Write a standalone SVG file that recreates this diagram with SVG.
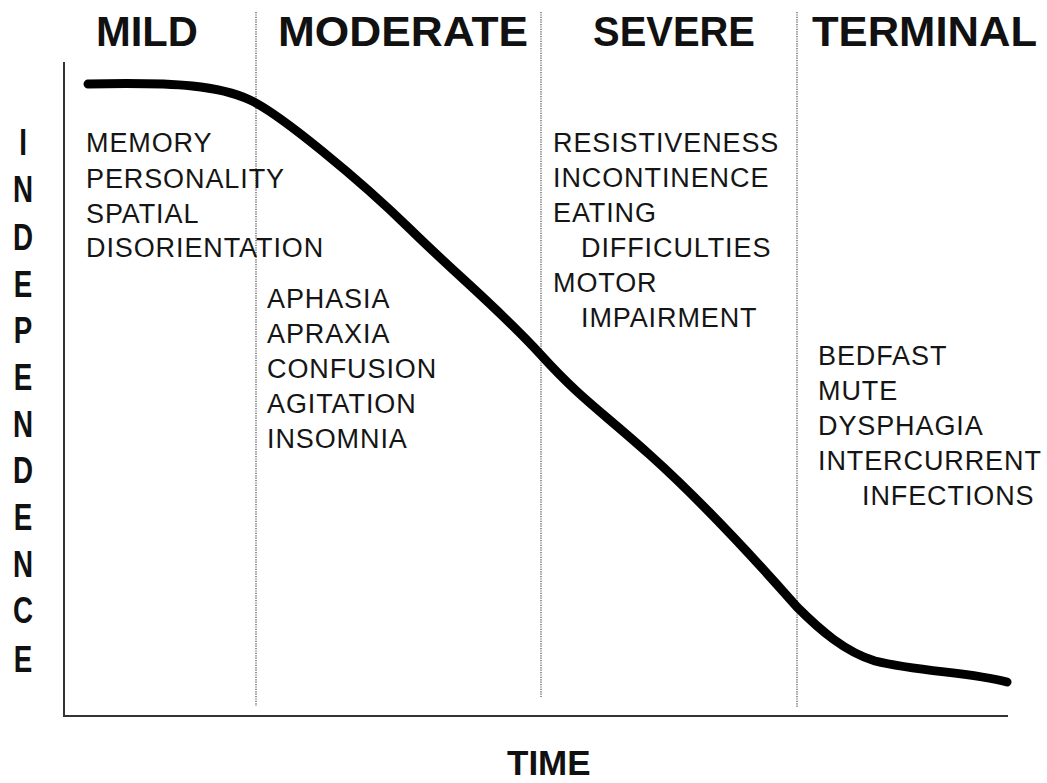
<svg xmlns="http://www.w3.org/2000/svg" width="1047" height="783" viewBox="0 0 1047 783">
<style>
.hd{font-family:"Liberation Sans",Arial,sans-serif;font-weight:bold;font-size:42px;fill:#111}
.ax{font-family:"Liberation Sans",Arial,sans-serif;font-weight:bold;font-size:37px;fill:#111}
.tx{font-family:"Liberation Sans",Arial,sans-serif;font-size:27px;letter-spacing:0.9px;fill:#151515}
.dot{stroke:#777;stroke-width:1.6;stroke-dasharray:1.2 1.2;fill:none}
.axis{stroke:#333;stroke-width:2;fill:none}
</style>
<rect width="1047" height="783" fill="#fff"/>
<g id="axes">
<line class="axis" x1="64" y1="62" x2="64" y2="717"/>
<line class="axis" x1="63" y1="716" x2="1008" y2="716"/>
</g>
<g id="dividers">
<line class="dot" x1="256" y1="12" x2="256" y2="706"/>
<line class="dot" x1="541" y1="12" x2="541" y2="697"/>
<line class="dot" x1="797" y1="12" x2="797" y2="707"/>
</g>
<g id="headers">
<text class="hd" x="96" y="46" textLength="102" lengthAdjust="spacingAndGlyphs">MILD</text>
<text class="hd" x="278" y="46" textLength="250" lengthAdjust="spacingAndGlyphs">MODERATE</text>
<text class="hd" x="593" y="46" textLength="162" lengthAdjust="spacingAndGlyphs">SEVERE</text>
<text class="hd" x="812" y="46" textLength="225" lengthAdjust="spacingAndGlyphs">TERMINAL</text>
</g>
<g id="ylabel" transform="translate(23,0) scale(0.75,1)">
<text class="ax" x="0" y="155" text-anchor="middle">I</text>
<text class="ax" x="0" y="202" text-anchor="middle">N</text>
<text class="ax" x="0" y="250" text-anchor="middle">D</text>
<text class="ax" x="0" y="297" text-anchor="middle">E</text>
<text class="ax" x="0" y="343" text-anchor="middle">P</text>
<text class="ax" x="0" y="390" text-anchor="middle">E</text>
<text class="ax" x="0" y="437" text-anchor="middle">N</text>
<text class="ax" x="0" y="483" text-anchor="middle">D</text>
<text class="ax" x="0" y="530" text-anchor="middle">E</text>
<text class="ax" x="0" y="577" text-anchor="middle">N</text>
<text class="ax" x="0" y="623" text-anchor="middle">C</text>
<text class="ax" x="0" y="672" text-anchor="middle">E</text>
</g>
<g id="xlabel">
<text class="hd" x="507" y="775" style="font-size:35px">TIME</text>
</g>
<g id="curve">
<path d="M88,84 C180,82 220,86 250,100 C280,114 360,180 410,229 S500,310 541,355 S600,410 650,455 S760,565 797,607 C820,630 845,652 875,661 C920,672 970,672 1007,682" fill="none" stroke="#000" stroke-width="9" stroke-linecap="round" stroke-linejoin="round"/>
</g>
<g id="mild-symptoms">
<text class="tx" x="86" y="152">MEMORY</text>
<text class="tx" x="86" y="188">PERSONALITY</text>
<text class="tx" x="86" y="223">SPATIAL</text>
<text class="tx" x="86" y="257">DISORIENTATION</text>
</g>
<g id="moderate-symptoms">
<text class="tx" x="267" y="308">APHASIA</text>
<text class="tx" x="267" y="343">APRAXIA</text>
<text class="tx" x="267" y="378">CONFUSION</text>
<text class="tx" x="267" y="413">AGITATION</text>
<text class="tx" x="267" y="448">INSOMNIA</text>
</g>
<g id="severe-symptoms">
<text class="tx" x="553" y="152">RESISTIVENESS</text>
<text class="tx" x="553" y="187">INCONTINENCE</text>
<text class="tx" x="553" y="222">EATING</text>
<text class="tx" x="581" y="257">DIFFICULTIES</text>
<text class="tx" x="553" y="292">MOTOR</text>
<text class="tx" x="581" y="327">IMPAIRMENT</text>
</g>
<g id="terminal-symptoms">
<text class="tx" x="818" y="365">BEDFAST</text>
<text class="tx" x="818" y="400">MUTE</text>
<text class="tx" x="818" y="435">DYSPHAGIA</text>
<text class="tx" x="818" y="470">INTERCURRENT</text>
<text class="tx" x="862" y="505">INFECTIONS</text>
</g>
</svg>
